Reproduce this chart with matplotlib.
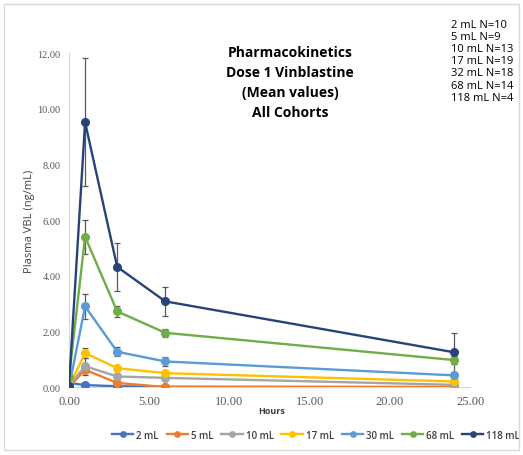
import matplotlib.pyplot as plt
from matplotlib.patches import Rectangle
from matplotlib.ticker import FormatStrFormatter

hours = [0, 1, 3, 6, 24]

cohorts = ['2 mL', '5 mL', '10 mL', '17 mL', '30 mL', '68 mL', '118 mL']
colors = ['#4472C4', '#ED7D31', '#A5A5A5', '#FFC000', '#5B9BD5', '#70AD47', '#264478']

vbl_2 = [0.15, 0.07, 0.03, 0.01, 0.0]
vbl_5 = [0.0, 0.62, 0.15, 0.0, 0.0]
vbl_10 = [0.05, 0.75, 0.38, 0.33, 0.08]
vbl_17 = [0.02, 1.22, 0.68, 0.50, 0.20]
vbl_30 = [0.0, 2.90, 1.27, 0.92, 0.42]
vbl_68 = [0.35, 5.40, 2.72, 1.95, 0.97]
vbl_118 = [0.05, 9.52, 4.32, 3.08, 1.25]

err_10 = [0, 0.30, 0, 0, 0]
err_17 = [0, 0.18, 0, 0, 0]
err_30 = [0, 0.45, 0.17, 0.15, 0.1]
err_68 = [0, 0.60, 0.20, 0.15, 0.15]
err_118 = [0, 2.30, 0.85, 0.52, 0.70]

series = [vbl_2, vbl_5, vbl_10, vbl_17, vbl_30, vbl_68, vbl_118]
errors = [None, None, err_10, err_17, err_30, err_68, err_118]

n_text = ['2 mL N=10', '5 mL N=9', '10 mL N=13', '17 mL N=19',
          '32 mL N=18', '68 mL N=14', '118 mL N=4']

fig = plt.figure(figsize=(5.23, 4.56), dpi=100)
fig.patches.append(Rectangle((0.008, 0.011), 0.984, 0.978, transform=fig.transFigure,
                             fill=False, edgecolor='#D9D9D9', linewidth=1))
ax = fig.add_axes([0.132, 0.149, 0.767, 0.732])

for name, col, y, e in zip(cohorts, colors, series, errors):
    ax.plot(hours, y, color=col, linewidth=1.7, marker='o', markersize=5.5, label=name, zorder=3)
    if e is not None:
        ax.errorbar(hours, y, yerr=e, fmt='none', ecolor='#595959', elinewidth=0.9,
                    capsize=2.5, capthick=0.9, zorder=2)

ax.set_xlim(0, 25)
ax.set_ylim(0, 12)
ax.set_xticks([0, 5, 10, 15, 20, 25])
ax.set_yticks([0, 2, 4, 6, 8, 10, 12])
ax.xaxis.set_major_formatter(FormatStrFormatter('%.2f'))
ax.yaxis.set_major_formatter(FormatStrFormatter('%.2f'))
ax.tick_params(length=0, labelcolor='#595959', pad=6)
for lab in ax.get_xticklabels():
    lab.set_fontsize(9)
    lab.set_family('Liberation Serif')
for lab in ax.get_yticklabels():
    lab.set_fontsize(7.5)
    lab.set_family('Liberation Serif')
for s in ['top', 'right']:
    ax.spines[s].set_visible(False)
for s in ['left', 'bottom']:
    ax.spines[s].set_color('#D9D9D9')

ax.set_ylabel('Plasma VBL (ng/mL)', fontsize=8, color='#404040', family='Open Sans', labelpad=2)
fig.text(0.52, 0.098, 'Hours', fontsize=6.5, color='#404040', family='Open Sans',
         fontweight='bold', ha='center', va='center')

fig.text(0.555, 0.818, 'Pharmacokinetics\nDose 1 Vinblastine\n(Mean values)\nAll Cohorts',
         fontsize=10, fontweight='bold', family='Open Sans', ha='center', va='center',
         linespacing=1.55)
fig.text(0.862, 0.957, '\n'.join(n_text), fontsize=8, family='Open Sans', ha='left', va='top',
         linespacing=1.15)

ax.legend(loc='center', bbox_to_anchor=(0.616, -0.144), ncol=7, frameon=False,
          handlelength=2.2, handletextpad=0.3, columnspacing=0.8,
          prop={'family': 'Open Sans', 'size': 7, 'weight': 'semibold'}, markerscale=0.7)
for t in ax.get_legend().get_texts():
    t.set_color('#404040')

fig.savefig('out.png', dpi=100)
